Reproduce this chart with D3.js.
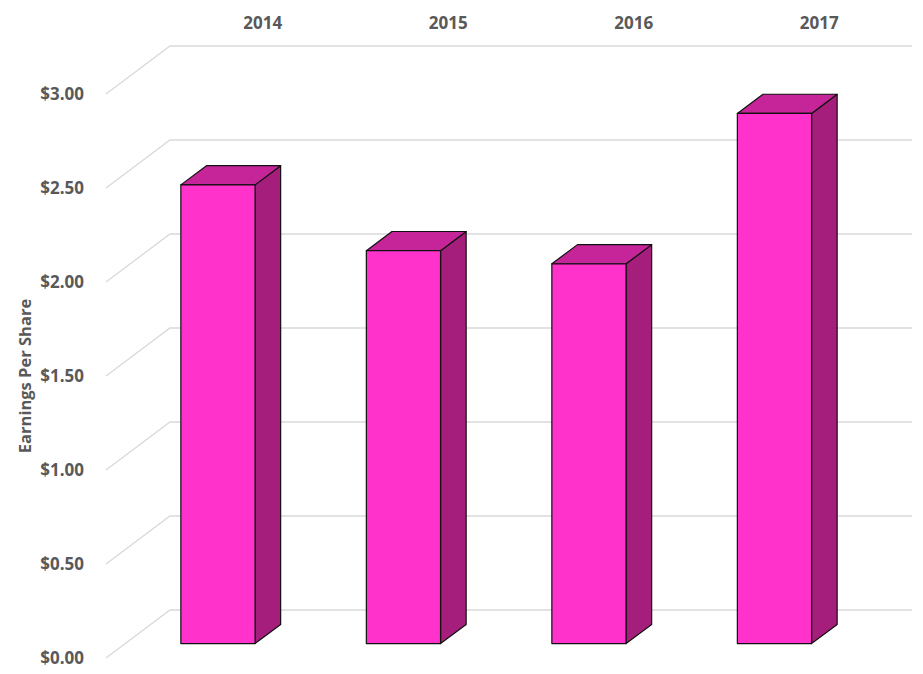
<!DOCTYPE html>
<html>
<head>
<meta charset="utf-8">
<script src="https://cdn.jsdelivr.net/npm/d3@7"></script>
<style>
  body { margin: 0; background: #fff; }
  text { font-family: 'Open Sans', sans-serif; font-weight: bold; fill: #595959; }
</style>
</head>
<body>
<svg id="chart" width="923" height="674"></svg>
<script>
var years = ['2014', '2015', '2016', '2017']
var eps = [2.44, 2.09, 2.02, 2.82]
var tickValues = [0, 0.5, 1, 1.5, 2, 2.5, 3]
var axisTitle = 'Earnings Per Share'

var svg = d3.select('#chart')

// front plane of the 3d box, back wall is shifted by depth
var depthX = 64, depthY = -48
var x = d3.scaleBand().domain(years).range([106, 848]).paddingInner(0.6).paddingOuter(0.3)
var y = d3.scaleLinear().domain([0, 3]).range([658, 94])
var fmt = d3.format('$.2f')

function proj(px, v, d){
  return [px + d*depthX, y(v) + d*depthY]
}

// gridlines: diagonal on side wall, then flat along back wall
var grid = svg.append('g')
tickValues.forEach(function(t){
  var a = proj(106, t, 0), b = proj(106, t, 1), c = proj(848, t, 1)
  grid.append('path')
    .attr('d', d3.line()([a, b, c]))
    .attr('fill', 'none')
    .attr('stroke', '#d9d9d9')
    .attr('stroke-width', 1.3)
})

svg.append('g').selectAll('text').data(tickValues).join('text')
  .attr('x', 84)
  .attr('y', d => y(d))
  .attr('dy', '.35em')
  .attr('text-anchor', 'end')
  .style('font-size', '17px')
  .text(fmt)

svg.append('g').selectAll('text').data(years).join('text')
  .attr('x', d => x(d) + x.bandwidth()/2 + depthX)
  .attr('y', 23)
  .attr('dy', '.35em')
  .attr('text-anchor', 'middle')
  .style('font-size', '17px')
  .text(d => d)

svg.append('text')
  .attr('transform', 'translate(25,' + 376 + ') rotate(-90)')
  .attr('dy', '.35em')
  .attr('text-anchor', 'middle')
  .style('font-size', '16.5px')
  .text(axisTitle)

// bars sit in the middle of the depth, from 0.3 to 0.7
var d0 = 0.3, d1 = 0.7
var bars = svg.append('g').selectAll('g').data(years).join('g')

bars.each(function(yr, i){
  var g = d3.select(this)
  var l = x(yr), r = x(yr) + x.bandwidth(), v = eps[i]
  var faces = [
    {pts: [proj(r, 0, d0), proj(r, 0, d1), proj(r, v, d1), proj(r, v, d0)], fill: '#a51e7b'},
    {pts: [proj(l, v, d0), proj(r, v, d0), proj(r, v, d1), proj(l, v, d1)], fill: '#c52598'},
    {pts: [proj(l, 0, d0), proj(r, 0, d0), proj(r, v, d0), proj(l, v, d0)], fill: '#ff33cc'}
  ]
  faces.forEach(function(f){
    g.append('path')
      .attr('d', d3.line()(f.pts) + 'Z')
      .attr('fill', f.fill)
      .attr('stroke', '#111')
      .attr('stroke-width', 1.2)
      .attr('stroke-linejoin', 'round')
  })
})
</script>
</body>
</html>
